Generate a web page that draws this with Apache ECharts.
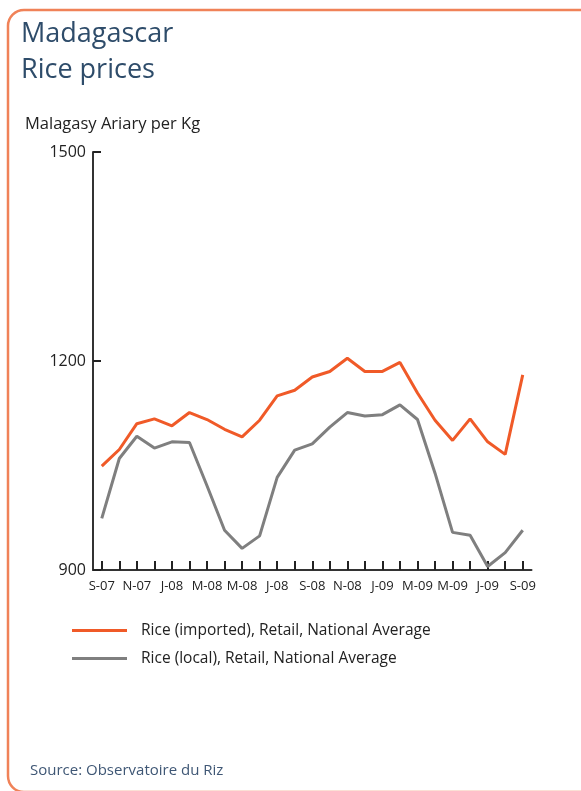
<!DOCTYPE html>
<html>
<head>
<meta charset="utf-8">
<script src="https://cdn.jsdelivr.net/npm/echarts@6/dist/echarts.min.js"></script>
<style>
html,body{margin:0;padding:0;background:#fff;}
#c{width:581px;height:791px;}
</style>
</head>
<body>
<div id="c"></div>
<script>
const categories = ['S-07','O-07','N-07','D-07','J-08','F-08','M-08','A-08','M-08','J-08','J-08','A-08','S-08','O-08','N-08','D-08','J-09','F-09','M-09','A-09','M-09','J-09','J-09','A-09','S-09'];
const importedRice = [1049,1073,1110,1117,1107,1126,1116,1102,1091,1115,1150,1158,1177,1185,1204,1185,1185,1198,1154,1115,1086,1117,1084,1066,1180];
const localRice = [974,1060,1092,1075,1084,1083,1021,957,931,949,1033,1072,1081,1105,1126,1121,1123,1137,1116,1039,954,950,905,925,957];
const yTicks = [900,1200,1500];
const seriesNames = ['Rice (imported), Retail, National Average','Rice (local), Retail, National Average'];

const font = '"Open Sans", Lato, sans-serif';
const chart = echarts.init(document.getElementById('c'), null, {renderer:'canvas'});
chart.setOption({
  animation:false,
  backgroundColor:'#fff',
  graphic:[
    {type:'rect', shape:{x:8,y:10,width:590,height:782,r:16}, style:{fill:'none', stroke:'#F08258', lineWidth:2.5}},
    {type:'text', left:21, top:21, style:{text:'Madagascar', font:'27px '+font, fill:'#2E4C6A'}},
    {type:'text', left:21, top:57, style:{text:'Rice prices', font:'27px '+font, fill:'#2E4C6A'}},
    {type:'text', left:25, top:116, style:{text:'Malagasy Ariary per Kg', font:'16.5px '+font, fill:'#222'}},
    {type:'text', left:30, top:763, style:{text:'Source: Observatoire du Riz', font:'15px '+font, fill:'#3F5775'}}
  ],
  legend:{
    orient:'vertical', left:67, top:615, itemWidth:55, itemHeight:3, itemGap:7, icon:'rect',
    textStyle:{fontFamily:font, fontSize:15.5, color:'#222', padding:[0,0,0,9], lineHeight:21},
    data:seriesNames
  },
  grid:{left:93, right:49.5, top:152, bottom:221},
  xAxis:{
    type:'category', data:categories, boundaryGap:true,
    axisLine:{lineStyle:{color:'#333', width:2}},
    axisTick:{show:true, inside:true, length:9, interval:0, alignWithLabel:true, lineStyle:{color:'#222', width:2}},
    axisLabel:{interval:1, fontFamily:font, fontSize:13, color:'#222', margin:10}
  },
  yAxis:{
    type:'value', min:900, max:1500, interval:300,
    axisLine:{show:true, lineStyle:{color:'#333', width:2}},
    axisTick:{show:true, inside:true, length:8, lineStyle:{color:'#222', width:2}},
    splitLine:{show:false},
    axisLabel:{fontFamily:font, fontSize:16, color:'#222', margin:7,
      formatter:function(v){return yTicks.indexOf(v)>=0 ? String(v) : '';}}
  },
  series:[
    {name:seriesNames[0], type:'line', data:importedRice, symbol:'none', lineStyle:{color:'#F05A28', width:3}, itemStyle:{color:'#F05A28'}},
    {name:seriesNames[1], type:'line', data:localRice, symbol:'none', lineStyle:{color:'#7F7F7F', width:3}, itemStyle:{color:'#7F7F7F'}}
  ]
});
</script>
</body>
</html>
